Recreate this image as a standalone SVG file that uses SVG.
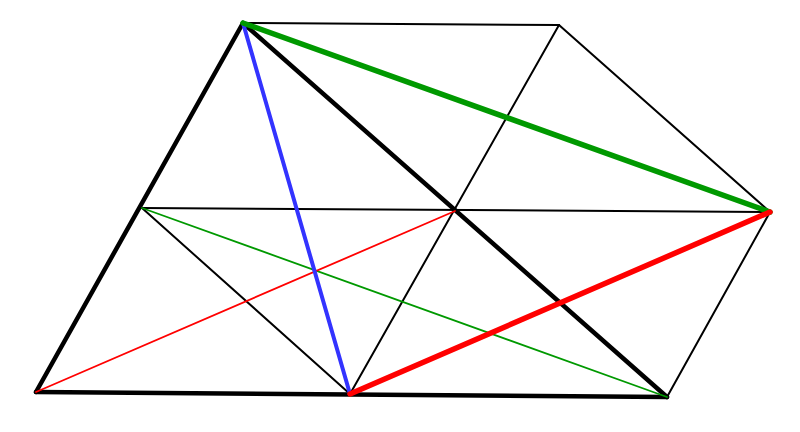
<svg xmlns="http://www.w3.org/2000/svg" width="800" height="432" viewBox="0 0 800 432">
<style>
line{stroke-linecap:round}
.tk{stroke:#000;stroke-width:4.5}
.tn{stroke:#000;stroke-width:2}
.gt{stroke:#009900;stroke-width:5.5}
.rt{stroke:#ff0000;stroke-width:5.5}
.bl{stroke:#3333ff;stroke-width:4}
.gn{stroke:#009900;stroke-width:1.8}
.rn{stroke:#ff0000;stroke-width:1.8}
</style>
<rect width="800" height="432" fill="#fff"/>
<g id="connectors">
<line class="tn" x1="243" y1="23" x2="559" y2="25"/>
<line class="tn" x1="559" y1="25" x2="770" y2="212"/>
<line class="tn" x1="770" y1="212" x2="667" y2="397"/>
<line class="tn" x1="142" y1="208" x2="770" y2="212"/>
<line class="tn" x1="142" y1="208" x2="350" y2="394"/>
<line class="tn" x1="559" y1="25" x2="350" y2="394"/>
<line class="tk" x1="243" y1="23" x2="36" y2="392"/>
<line class="tk" x1="36" y1="392" x2="667" y2="397"/>
<line class="tk" x1="243" y1="23" x2="667" y2="397"/>
<line class="gn" x1="142" y1="208" x2="667" y2="397"/>
<line class="rn" x1="36" y1="392" x2="455" y2="211"/>
<line class="bl" x1="243" y1="23" x2="350" y2="394"/>
<line class="gt" x1="243" y1="23" x2="770" y2="212"/>
<line class="rt" x1="350" y1="394" x2="770" y2="212"/>
</g>
</svg>
